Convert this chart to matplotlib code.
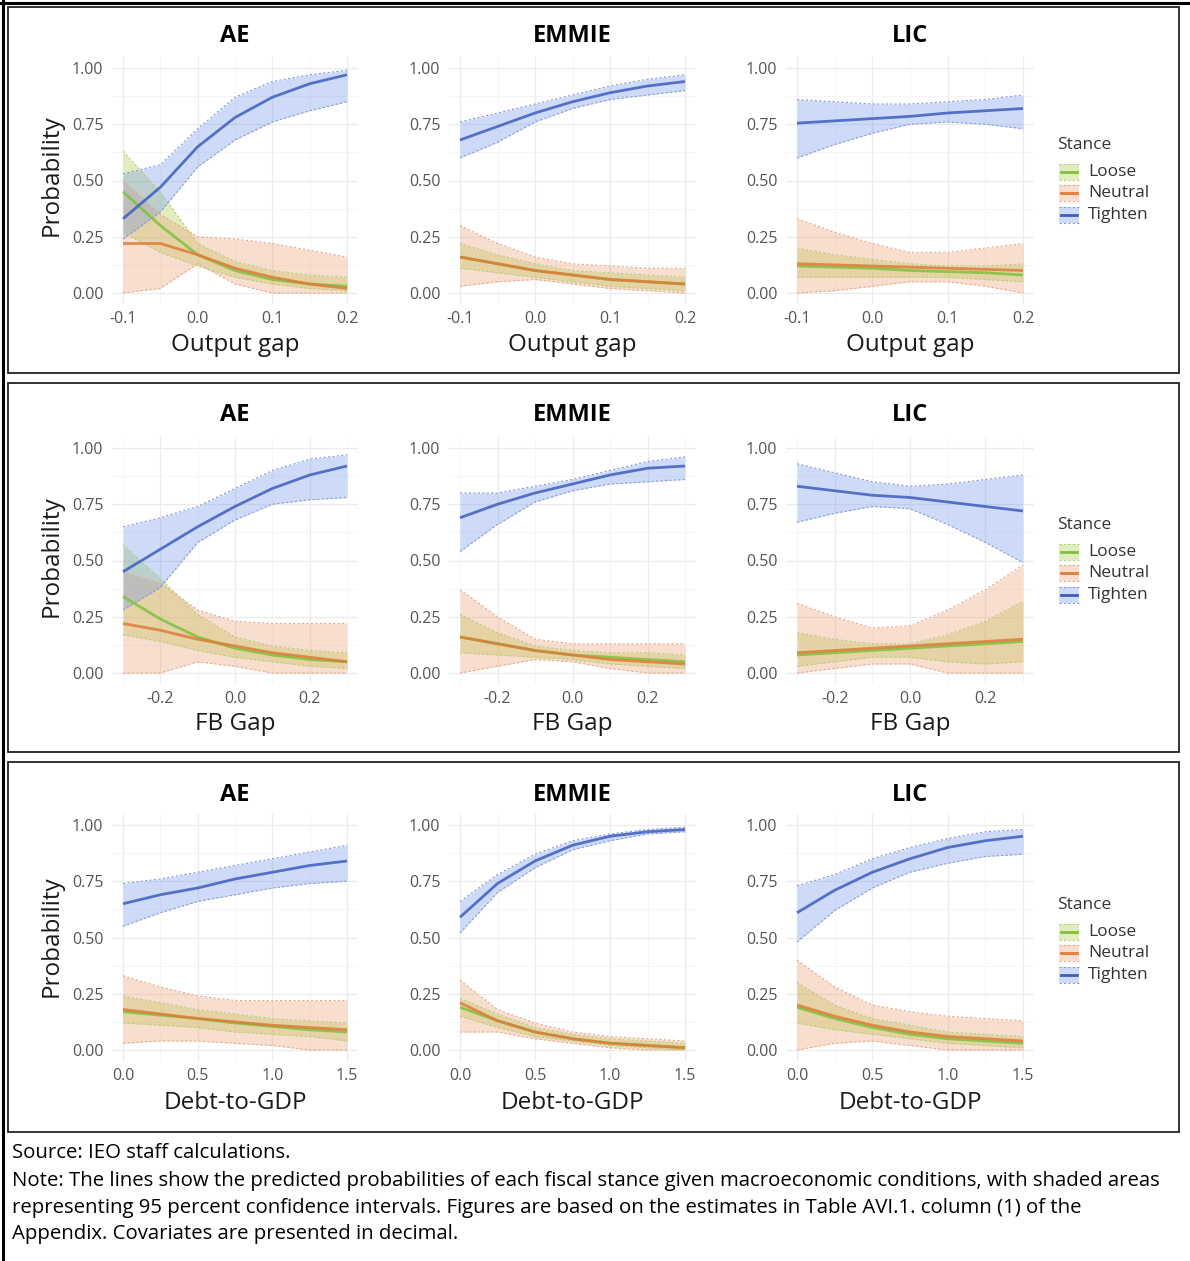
import matplotlib
matplotlib.use('Agg')
import matplotlib.pyplot as plt
from matplotlib.lines import Line2D
from matplotlib.patches import Rectangle

# ---------------- data ----------------
STANCES = ['Loose', 'Neutral', 'Tighten']
GROUPS = ['AE', 'EMMIE', 'LIC']

X_OUTPUT = [-0.1, -0.05, 0.0, 0.05, 0.1, 0.15, 0.2]
X_FB = [-0.3, -0.2, -0.1, 0.0, 0.1, 0.2, 0.3]
X_DEBT = [0.0, 0.25, 0.5, 0.75, 1.0, 1.25, 1.5]

# Output gap
OG_AE_FIT = {'Loose':   [0.45, 0.30, 0.17, 0.10, 0.06, 0.04, 0.03],
             'Neutral': [0.22, 0.22, 0.17, 0.11, 0.07, 0.04, 0.02],
             'Tighten': [0.33, 0.47, 0.65, 0.78, 0.87, 0.93, 0.97]}
OG_AE_LO = {'Loose':   [0.27, 0.18, 0.12, 0.07, 0.04, 0.02, 0.01],
            'Neutral': [0.00, 0.02, 0.13, 0.04, 0.00, 0.00, 0.00],
            'Tighten': [0.24, 0.36, 0.56, 0.68, 0.76, 0.81, 0.85]}
OG_AE_HI = {'Loose':   [0.63, 0.45, 0.22, 0.14, 0.10, 0.08, 0.07],
            'Neutral': [0.50, 0.35, 0.25, 0.24, 0.22, 0.19, 0.16],
            'Tighten': [0.53, 0.57, 0.73, 0.87, 0.94, 0.97, 0.99]}

OG_EM_FIT = {'Loose':   [0.16, 0.13, 0.10, 0.08, 0.06, 0.05, 0.04],
             'Neutral': [0.16, 0.13, 0.10, 0.08, 0.06, 0.05, 0.04],
             'Tighten': [0.68, 0.74, 0.80, 0.85, 0.89, 0.92, 0.94]}
OG_EM_LO = {'Loose':   [0.11, 0.09, 0.07, 0.05, 0.03, 0.02, 0.01],
            'Neutral': [0.03, 0.05, 0.06, 0.04, 0.02, 0.01, 0.00],
            'Tighten': [0.60, 0.67, 0.76, 0.82, 0.86, 0.88, 0.90]}
OG_EM_HI = {'Loose':   [0.22, 0.17, 0.13, 0.10, 0.09, 0.08, 0.07],
            'Neutral': [0.30, 0.22, 0.16, 0.13, 0.12, 0.11, 0.11],
            'Tighten': [0.76, 0.80, 0.84, 0.88, 0.92, 0.95, 0.97]}

OG_LIC_FIT = {'Loose':   [0.12, 0.115, 0.11, 0.10, 0.095, 0.09, 0.08],
              'Neutral': [0.13, 0.125, 0.12, 0.115, 0.11, 0.105, 0.10],
              'Tighten': [0.755, 0.765, 0.775, 0.785, 0.80, 0.81, 0.82]}
OG_LIC_LO = {'Loose':   [0.07, 0.07, 0.07, 0.07, 0.07, 0.06, 0.05],
             'Neutral': [0.00, 0.01, 0.03, 0.05, 0.05, 0.03, 0.00],
             'Tighten': [0.60, 0.66, 0.71, 0.75, 0.76, 0.75, 0.73]}
OG_LIC_HI = {'Loose':   [0.20, 0.17, 0.15, 0.13, 0.12, 0.12, 0.13],
             'Neutral': [0.33, 0.27, 0.22, 0.18, 0.18, 0.20, 0.22],
             'Tighten': [0.86, 0.85, 0.84, 0.84, 0.85, 0.86, 0.88]}

# FB gap
FB_AE_FIT = {'Loose':   [0.34, 0.24, 0.16, 0.11, 0.08, 0.06, 0.05],
             'Neutral': [0.22, 0.19, 0.15, 0.12, 0.09, 0.07, 0.05],
             'Tighten': [0.45, 0.55, 0.65, 0.74, 0.82, 0.88, 0.92]}
FB_AE_LO = {'Loose':   [0.17, 0.14, 0.10, 0.07, 0.05, 0.03, 0.02],
            'Neutral': [0.00, 0.00, 0.05, 0.03, 0.00, 0.00, 0.00],
            'Tighten': [0.28, 0.38, 0.58, 0.68, 0.75, 0.77, 0.78]}
FB_AE_HI = {'Loose':   [0.57, 0.42, 0.26, 0.16, 0.12, 0.10, 0.09],
            'Neutral': [0.45, 0.40, 0.28, 0.23, 0.22, 0.22, 0.22],
            'Tighten': [0.65, 0.69, 0.74, 0.82, 0.90, 0.95, 0.97]}

FB_EM_FIT = {'Loose':   [0.16, 0.13, 0.10, 0.08, 0.07, 0.06, 0.05],
             'Neutral': [0.16, 0.13, 0.10, 0.08, 0.06, 0.05, 0.04],
             'Tighten': [0.69, 0.75, 0.80, 0.84, 0.88, 0.91, 0.92]}
FB_EM_LO = {'Loose':   [0.09, 0.08, 0.07, 0.06, 0.04, 0.03, 0.02],
            'Neutral': [0.00, 0.03, 0.06, 0.05, 0.02, 0.00, 0.00],
            'Tighten': [0.54, 0.66, 0.76, 0.81, 0.84, 0.85, 0.86]}
FB_EM_HI = {'Loose':   [0.26, 0.18, 0.12, 0.10, 0.09, 0.09, 0.08],
            'Neutral': [0.37, 0.25, 0.15, 0.13, 0.13, 0.13, 0.13],
            'Tighten': [0.80, 0.80, 0.83, 0.86, 0.90, 0.94, 0.96]}

FB_LIC_FIT = {'Loose':   [0.08, 0.09, 0.10, 0.11, 0.12, 0.13, 0.14],
              'Neutral': [0.09, 0.10, 0.11, 0.12, 0.13, 0.14, 0.15],
              'Tighten': [0.83, 0.81, 0.79, 0.78, 0.76, 0.74, 0.72]}
FB_LIC_LO = {'Loose':   [0.03, 0.05, 0.07, 0.07, 0.05, 0.04, 0.05],
             'Neutral': [0.00, 0.02, 0.04, 0.04, 0.00, 0.00, 0.00],
             'Tighten': [0.67, 0.71, 0.74, 0.73, 0.66, 0.58, 0.49]}
FB_LIC_HI = {'Loose':   [0.18, 0.15, 0.13, 0.13, 0.17, 0.23, 0.32],
             'Neutral': [0.31, 0.25, 0.20, 0.21, 0.28, 0.37, 0.48],
             'Tighten': [0.93, 0.89, 0.85, 0.83, 0.84, 0.86, 0.88]}

# Debt-to-GDP
DB_AE_FIT = {'Loose':   [0.17, 0.155, 0.14, 0.12, 0.105, 0.09, 0.08],
             'Neutral': [0.18, 0.16, 0.14, 0.125, 0.11, 0.10, 0.09],
             'Tighten': [0.65, 0.69, 0.72, 0.76, 0.79, 0.82, 0.84]}
DB_AE_LO = {'Loose':   [0.12, 0.11, 0.10, 0.08, 0.07, 0.06, 0.04],
            'Neutral': [0.03, 0.04, 0.04, 0.03, 0.02, 0.00, 0.00],
            'Tighten': [0.55, 0.61, 0.66, 0.69, 0.72, 0.74, 0.75]}
DB_AE_HI = {'Loose':   [0.24, 0.21, 0.18, 0.16, 0.14, 0.13, 0.12],
            'Neutral': [0.33, 0.28, 0.24, 0.22, 0.22, 0.22, 0.22],
            'Tighten': [0.74, 0.76, 0.79, 0.82, 0.85, 0.88, 0.91]}

DB_EM_FIT = {'Loose':   [0.19, 0.13, 0.08, 0.05, 0.03, 0.02, 0.01],
             'Neutral': [0.21, 0.13, 0.08, 0.05, 0.03, 0.02, 0.01],
             'Tighten': [0.59, 0.74, 0.84, 0.91, 0.95, 0.97, 0.98]}
DB_EM_LO = {'Loose':   [0.15, 0.10, 0.06, 0.04, 0.02, 0.01, 0.00],
            'Neutral': [0.08, 0.08, 0.05, 0.03, 0.01, 0.00, 0.00],
            'Tighten': [0.52, 0.70, 0.81, 0.89, 0.93, 0.96, 0.97]}
DB_EM_HI = {'Loose':   [0.23, 0.16, 0.10, 0.07, 0.05, 0.04, 0.03],
            'Neutral': [0.31, 0.18, 0.12, 0.08, 0.06, 0.05, 0.04],
            'Tighten': [0.66, 0.78, 0.87, 0.93, 0.96, 0.98, 0.99]}

DB_LIC_FIT = {'Loose':   [0.19, 0.14, 0.10, 0.07, 0.05, 0.04, 0.03],
              'Neutral': [0.20, 0.15, 0.11, 0.08, 0.06, 0.05, 0.04],
              'Tighten': [0.61, 0.71, 0.79, 0.85, 0.90, 0.93, 0.95]}
DB_LIC_LO = {'Loose':   [0.12, 0.09, 0.07, 0.05, 0.03, 0.02, 0.01],
             'Neutral': [0.00, 0.03, 0.04, 0.02, 0.00, 0.00, 0.00],
             'Tighten': [0.48, 0.62, 0.72, 0.79, 0.83, 0.86, 0.87]}
DB_LIC_HI = {'Loose':   [0.30, 0.20, 0.14, 0.11, 0.08, 0.07, 0.06],
             'Neutral': [0.40, 0.28, 0.20, 0.17, 0.15, 0.14, 0.13],
             'Tighten': [0.73, 0.78, 0.85, 0.90, 0.94, 0.97, 0.98]}

Y_TICKS = [0.0, 0.25, 0.5, 0.75, 1.0]
Y_TICK_LABELS = ['0.00', '0.25', '0.50', '0.75', '1.00']
OG_TICKS = [-0.1, 0.0, 0.1, 0.2]
OG_TICK_LABELS = ['-0.1', '0.0', '0.1', '0.2']
FB_TICKS = [-0.2, 0.0, 0.2]
FB_TICK_LABELS = ['-0.2', '0.0', '0.2']
DB_TICKS = [0.0, 0.5, 1.0, 1.5]
DB_TICK_LABELS = ['0.0', '0.5', '1.0', '1.5']

SOURCE = "Source: IEO staff calculations."
NOTE = ["Note: The lines show the predicted probabilities of each fiscal stance given macroeconomic conditions, with shaded areas",
        "representing 95 percent confidence intervals. Figures are based on the estimates in Table AVI.1. column (1) of the",
        "Appendix. Covariates are presented in decimal."]

# ---------------- style ----------------
W, H = 1190, 1261
plt.rcParams['font.family'] = ['Open Sans', 'DejaVu Sans']

LINE_C = {'Loose': '#7DC23E', 'Neutral': '#DE7C38', 'Tighten': '#3D5DBE'}
FILL_C = {'Loose': '#AACD46', 'Neutral': '#EDA075', 'Tighten': '#7098EB'}
EDGE_C = {'Loose': '#B3D27A', 'Neutral': '#E9A98C', 'Tighten': '#8A9BD0'}
FILL_A = 0.34
TICK_C = '#555555'
TEXT_C = '#1A1A1A'

fig = plt.figure(figsize=(W / 100, H / 100), dpi=100)


def fx(x):
    return x / W


def fy(y):
    return 1 - y / H


COLS_PX = [(123, 347), (460, 685), (797, 1023)]

ROWS = [
    dict(x=X_OUTPUT, ticks=OG_TICKS, labels=OG_TICK_LABELS, minor=[-0.05, 0.05, 0.15],
         xlabel='Output gap', ypx=(68, 293), title_y=36, xlabel_y=345, prob_y=175,
         leg_y=(145, 172, 193, 215),
         fit=[OG_AE_FIT, OG_EM_FIT, OG_LIC_FIT], lo=[OG_AE_LO, OG_EM_LO, OG_LIC_LO],
         hi=[OG_AE_HI, OG_EM_HI, OG_LIC_HI]),
    dict(x=X_FB, ticks=FB_TICKS, labels=FB_TICK_LABELS, minor=[-0.3, -0.1, 0.1, 0.3],
         xlabel='FB Gap', ypx=(448, 673), title_y=415, xlabel_y=724, prob_y=556,
         leg_y=(525, 552, 573, 595),
         fit=[FB_AE_FIT, FB_EM_FIT, FB_LIC_FIT], lo=[FB_AE_LO, FB_EM_LO, FB_LIC_LO],
         hi=[FB_AE_HI, FB_EM_HI, FB_LIC_HI]),
    dict(x=X_DEBT, ticks=DB_TICKS, labels=DB_TICK_LABELS, minor=[0.25, 0.75, 1.25],
         xlabel='Debt-to-GDP', ypx=(825, 1050), title_y=795, xlabel_y=1103, prob_y=936,
         leg_y=(905, 932, 953, 975),
         fit=[DB_AE_FIT, DB_EM_FIT, DB_LIC_FIT], lo=[DB_AE_LO, DB_EM_LO, DB_LIC_LO],
         hi=[DB_AE_HI, DB_EM_HI, DB_LIC_HI]),
]

# panel boxes and outer lines
BOXES = [(8, 7, 1179, 373), (8, 383, 1179, 752), (8, 762, 1179, 1132)]
for (x0, y0, x1, y1) in BOXES:
    fig.patches.append(Rectangle((fx(x0), fy(y1)), (x1 - x0) / W, (y1 - y0) / H,
                                 transform=fig.transFigure, fill=False,
                                 edgecolor='#222222', linewidth=1.3))
fig.lines.append(Line2D([0, 1], [fy(2.5), fy(2.5)], transform=fig.transFigure,
                        color='black', linewidth=2.2))
fig.lines.append(Line2D([fx(2.5), fx(2.5)], [0, 1], transform=fig.transFigure,
                        color='black', linewidth=2.2))

for row in ROWS:
    x = row['x']
    xmin, xmax = min(x), max(x)
    span = xmax - xmin
    ytop, ybot = row['ypx']
    for c, (px0, px1) in enumerate(COLS_PX):
        left = px0 - 0.05 * (px1 - px0)
        width = 1.1 * (px1 - px0)
        top = ytop - 0.05 * (ybot - ytop)
        height = 1.1 * (ybot - ytop)
        ax = fig.add_axes([fx(left), fy(top + height), width / W, height / H])
        ax.set_xlim(xmin - 0.05 * span, xmax + 0.05 * span)
        ax.set_ylim(-0.05, 1.05)
        for s in ax.spines.values():
            s.set_visible(False)
        ax.set_xticks(row['ticks'])
        ax.set_xticklabels(row['labels'])
        ax.set_xticks(row['minor'], minor=True)
        ax.set_yticks(Y_TICKS)
        ax.set_yticklabels(Y_TICK_LABELS)
        ax.set_yticks([0.125, 0.375, 0.625, 0.875], minor=True)
        ax.tick_params(which='both', length=0)
        ax.tick_params(axis='x', pad=5, labelsize=11.5, labelcolor=TICK_C)
        ax.tick_params(axis='y', pad=6, labelsize=11.5, labelcolor=TICK_C)
        ax.grid(which='major', color='#EBEBEB', linewidth=0.9)
        ax.grid(which='minor', color='#F4F4F4', linewidth=0.6)
        ax.set_axisbelow(True)

        fit, lo, hi = row['fit'][c], row['lo'][c], row['hi'][c]
        for st in STANCES:
            ax.fill_between(x, lo[st], hi[st], color=FILL_C[st], alpha=FILL_A, linewidth=0)
            ax.plot(x, lo[st], color=EDGE_C[st], linewidth=0.8, linestyle=(0, (2, 2)))
            ax.plot(x, hi[st], color=EDGE_C[st], linewidth=0.8, linestyle=(0, (2, 2)))
        for st in STANCES:
            ax.plot(x, fit[st], color=LINE_C[st], linewidth=2.0, alpha=0.85,
                    solid_capstyle='butt', solid_joinstyle='round')

        cx = (px0 + px1) / 2
        fig.text(fx(cx), fy(row['title_y']), GROUPS[c], ha='center', va='center',
                 fontsize=17, fontweight='bold', color='black')
        fig.text(fx(cx), fy(row['xlabel_y']), row['xlabel'], ha='center', va='center',
                 fontsize=17.5, color=TEXT_C)
    fig.text(fx(52), fy(row['prob_y']), 'Probability', ha='center', va='center',
             rotation=90, fontsize=17.5, color=TEXT_C)

    # legend
    ty, e1, e2, e3 = row['leg_y']
    fig.text(fx(1057), fy(ty), 'Stance', ha='left', va='center', fontsize=12.5, color='#333333')
    for st, ey in zip(STANCES, (e1, e2, e3)):
        kx0, kx1 = 1059, 1079
        fig.patches.append(Rectangle((fx(kx0), fy(ey + 8)), (kx1 - kx0) / W, 16 / H,
                                     transform=fig.transFigure, facecolor=FILL_C[st],
                                     alpha=FILL_A, edgecolor='none'))
        for yy in (ey - 8, ey + 8):
            fig.lines.append(Line2D([fx(kx0), fx(kx1)], [fy(yy), fy(yy)],
                                    transform=fig.transFigure, color=EDGE_C[st],
                                    linewidth=0.8, linestyle=(0, (2, 2))))
        fig.lines.append(Line2D([fx(kx0 + 2), fx(kx1 - 2)], [fy(ey), fy(ey)],
                                transform=fig.transFigure, color=LINE_C[st], linewidth=2.0))
        fig.text(fx(1088), fy(ey), st, ha='left', va='center', fontsize=12.5, color='#333333')

# footnotes
fig.text(fx(12), fy(1153), SOURCE, ha='left', va='center', fontsize=14.7, color='black')
for i, line in enumerate(NOTE):
    fig.text(fx(12), fy(1181 + 26.5 * i), line, ha='left', va='center', fontsize=14.7,
             color='black')

fig.savefig('out.png', dpi=100)
